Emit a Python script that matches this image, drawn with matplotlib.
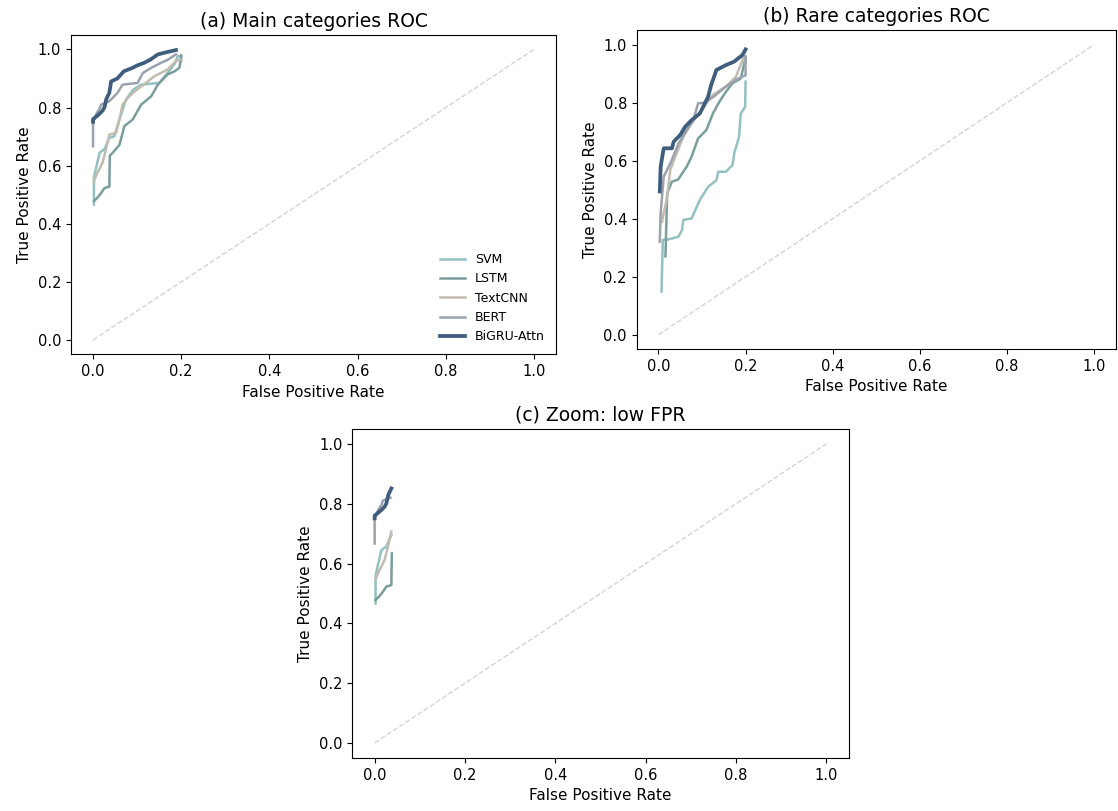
import numpy as np
import matplotlib.pyplot as plt

# model names and colours
models = ["SVM", "LSTM", "TextCNN", "BERT", "BiGRU-Attn"]
colors = ["#93c1c1", "#7a9e9c", "#c2bcb0", "#9ba2ae", "#3f5d7c"]
widths = [1.8, 1.8, 1.8, 1.8, 2.7]

# (a) main categories ROC points
main_fpr = {
    "SVM": [0.002, 0.002, 0.008, 0.015, 0.026, 0.037, 0.048, 0.06, 0.075, 0.09, 0.109, 0.13, 0.15, 0.169, 0.185, 0.192, 0.2, 0.2],
    "LSTM": [0.002, 0.01, 0.018, 0.026, 0.037, 0.038, 0.045, 0.06, 0.071, 0.09, 0.109, 0.132, 0.147, 0.169, 0.185, 0.196, 0.2],
    "TextCNN": [0.002, 0.008, 0.015, 0.022, 0.03, 0.037, 0.045, 0.052, 0.06, 0.067, 0.079, 0.09, 0.105, 0.12, 0.139, 0.155, 0.169, 0.188, 0.198],
    "BERT": [0.0, 0.0, 0.008, 0.015, 0.018, 0.026, 0.035, 0.041, 0.055, 0.067, 0.085, 0.101, 0.113, 0.13, 0.154, 0.17, 0.188],
    "BiGRU-Attn": [0.0, 0.0, 0.008, 0.015, 0.022, 0.026, 0.03, 0.037, 0.041, 0.055, 0.07, 0.09, 0.1, 0.116, 0.13, 0.147, 0.165, 0.188],
}
main_tpr = {
    "SVM": [0.466, 0.56, 0.6, 0.645, 0.657, 0.696, 0.701, 0.76, 0.828, 0.86, 0.879, 0.882, 0.885, 0.919, 0.95, 0.977, 0.977, 0.96],
    "LSTM": [0.478, 0.49, 0.505, 0.523, 0.528, 0.634, 0.645, 0.672, 0.736, 0.759, 0.81, 0.839, 0.879, 0.914, 0.925, 0.937, 0.98],
    "TextCNN": [0.545, 0.57, 0.59, 0.612, 0.66, 0.707, 0.71, 0.713, 0.76, 0.81, 0.833, 0.85, 0.868, 0.885, 0.908, 0.92, 0.931, 0.96, 0.965],
    "BERT": [0.667, 0.75, 0.78, 0.796, 0.81, 0.815, 0.82, 0.828, 0.85, 0.879, 0.882, 0.885, 0.919, 0.935, 0.954, 0.965, 0.983],
    "BiGRU-Attn": [0.751, 0.76, 0.77, 0.779, 0.79, 0.801, 0.829, 0.851, 0.89, 0.9, 0.925, 0.937, 0.945, 0.954, 0.965, 0.983, 0.99, 0.998],
}

# (b) rare categories ROC points
rare_fpr = {
    "SVM": [0.007, 0.01, 0.02, 0.031, 0.046, 0.054, 0.057, 0.076, 0.095, 0.114, 0.133, 0.137, 0.155, 0.17, 0.174, 0.185, 0.189, 0.199, 0.2],
    "LSTM": [0.016, 0.02, 0.031, 0.045, 0.065, 0.076, 0.091, 0.11, 0.125, 0.14, 0.155, 0.17, 0.189, 0.2],
    "TextCNN": [0.008, 0.02, 0.027, 0.04, 0.057, 0.076, 0.099, 0.125, 0.155, 0.178, 0.196, 0.2],
    "BERT": [0.003, 0.005, 0.012, 0.03, 0.046, 0.065, 0.08, 0.091, 0.105, 0.127, 0.15, 0.176, 0.193, 0.2, 0.2],
    "BiGRU-Attn": [0.003, 0.005, 0.012, 0.031, 0.035, 0.05, 0.061, 0.076, 0.095, 0.114, 0.121, 0.133, 0.155, 0.174, 0.193, 0.2],
}
rare_tpr = {
    "SVM": [0.149, 0.327, 0.328, 0.332, 0.338, 0.361, 0.396, 0.401, 0.465, 0.51, 0.533, 0.562, 0.562, 0.585, 0.626, 0.683, 0.763, 0.786, 0.873],
    "LSTM": [0.27, 0.488, 0.528, 0.535, 0.58, 0.614, 0.677, 0.706, 0.763, 0.804, 0.838, 0.867, 0.884, 0.955],
    "TextCNN": [0.39, 0.476, 0.568, 0.62, 0.683, 0.729, 0.775, 0.827, 0.856, 0.89, 0.959, 0.94],
    "BERT": [0.321, 0.419, 0.545, 0.6, 0.66, 0.706, 0.74, 0.798, 0.8, 0.821, 0.85, 0.878, 0.89, 0.895, 0.96],
    "BiGRU-Attn": [0.494, 0.58, 0.643, 0.643, 0.666, 0.689, 0.717, 0.74, 0.763, 0.821, 0.861, 0.913, 0.93, 0.942, 0.965, 0.984],
}

low_fpr_cut = 0.04

plt.rcParams['font.family'] = ['DejaVu Sans']
fig = plt.figure(figsize=(11.18, 8.11), dpi=100)
ax_a = fig.add_axes([0.0635, 0.5629, 0.4338, 0.394])
ax_b = fig.add_axes([0.5695, 0.5694, 0.4285, 0.3933])
ax_c = fig.add_axes([0.3149, 0.0654, 0.4445, 0.4057])


def style(ax, title):
    ax.plot([0, 1], [0, 1], ls="--", color="#d4d4d4", lw=1)
    ax.set_title(title, fontsize=13.5)
    ax.set_xlabel("False Positive Rate", fontsize=11)
    ax.set_ylabel("True Positive Rate", fontsize=11)
    ax.tick_params(labelsize=10.5)
    ax.set_xticks(np.arange(0, 1.01, 0.2))
    ax.set_yticks(np.arange(0, 1.01, 0.2))


for m, c, w in zip(models, colors, widths):
    ax_a.plot(main_fpr[m], main_tpr[m], color=c, lw=w, label=m)
    ax_b.plot(rare_fpr[m], rare_tpr[m], color=c, lw=w, label=m)
    f = np.array(main_fpr[m])
    t = np.array(main_tpr[m])
    keep = f <= low_fpr_cut
    ax_c.plot(f[keep], t[keep], color=c, lw=w, label=m)

style(ax_a, "(a) Main categories ROC")
style(ax_b, "(b) Rare categories ROC")
style(ax_c, "(c) Zoom: low FPR")

ax_a.legend(loc="lower right", frameon=False, fontsize=9)

fig.savefig("out.png", dpi=100)
